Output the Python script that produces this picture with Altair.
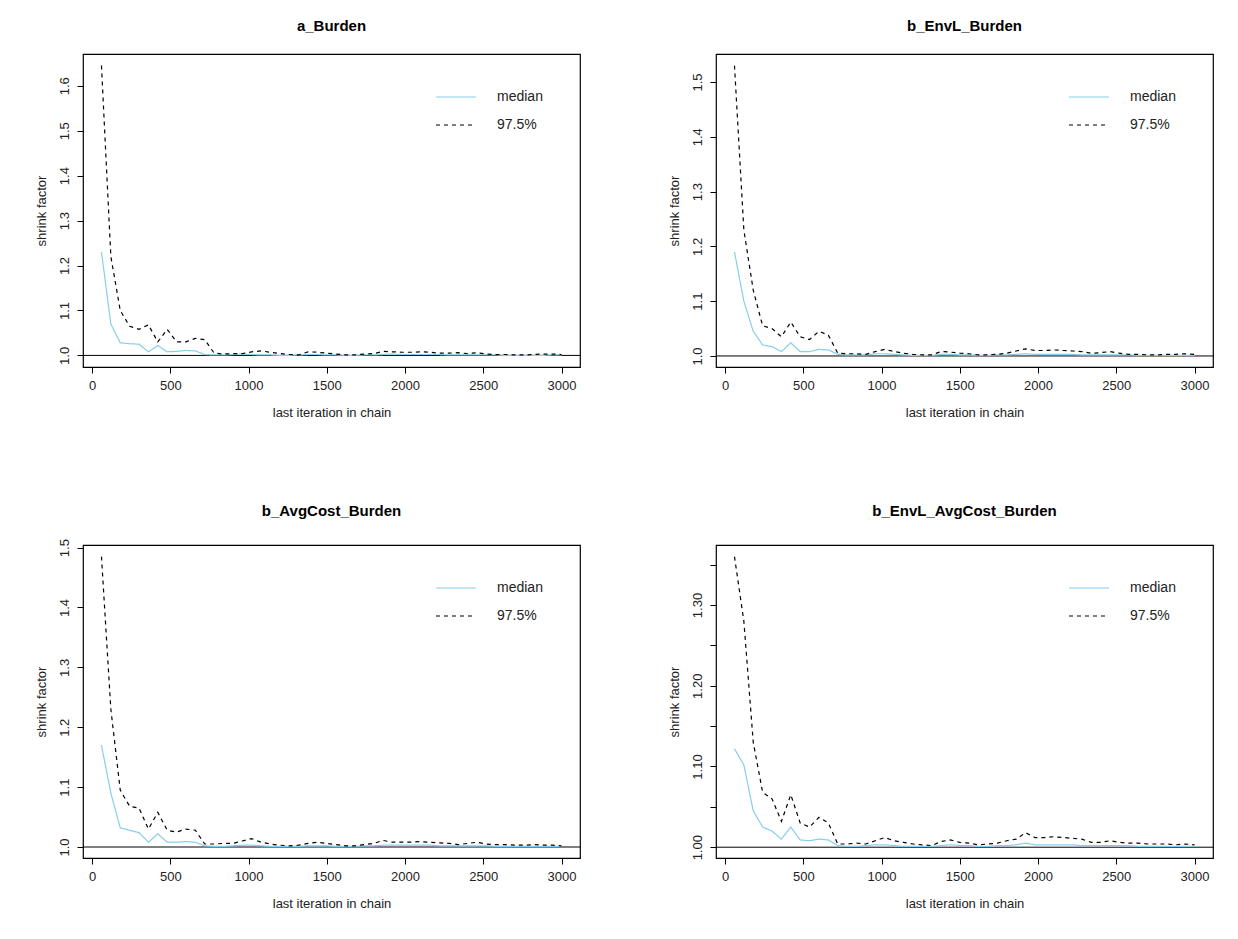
import pandas as pd
import altair as alt

iters = [60, 120, 180, 240, 300, 360, 420, 480, 540, 600,
         660, 720, 780, 840, 900, 960, 1020, 1080, 1140, 1200,
         1260, 1320, 1380, 1440, 1500, 1560, 1620, 1680, 1740, 1800,
         1860, 1920, 1980, 2040, 2100, 2160, 2220, 2280, 2340, 2400,
         2460, 2520, 2580, 2640, 2700, 2760, 2820, 2880, 2940, 3000]

a_med = [1.230, 1.070, 1.028, 1.026, 1.025, 1.008, 1.022, 1.008, 1.009, 1.011,
         1.010, 1.002, 1.001, 1.001, 1.002, 1.003, 1.002, 1.001, 1.001, 1.000,
         1.000, 1.001, 1.002, 1.002, 1.001, 1.001, 1.000, 1.000, 1.001, 1.001,
         1.002, 1.003, 1.002, 1.002, 1.002, 1.002, 1.002, 1.001, 1.001, 1.001,
         1.001, 1.001, 1.001, 1.000, 1.000, 1.000, 1.000, 1.000, 1.001, 1.001]
a_hi = [1.645, 1.220, 1.100, 1.065, 1.058, 1.068, 1.030, 1.058, 1.030, 1.030,
        1.038, 1.035, 1.005, 1.003, 1.004, 1.004, 1.008, 1.010, 1.007, 1.004,
        1.002, 1.001, 1.008, 1.007, 1.005, 1.003, 1.001, 1.001, 1.003, 1.004,
        1.009, 1.008, 1.007, 1.007, 1.008, 1.007, 1.005, 1.005, 1.006, 1.004,
        1.006, 1.003, 1.002, 1.002, 1.001, 1.001, 1.002, 1.003, 1.003, 1.002]

b_med = [1.190, 1.100, 1.045, 1.020, 1.017, 1.008, 1.024, 1.008, 1.008, 1.012,
         1.011, 1.003, 1.002, 1.002, 1.002, 1.004, 1.004, 1.003, 1.002, 1.001,
         1.001, 1.001, 1.003, 1.003, 1.002, 1.002, 1.001, 1.001, 1.002, 1.002,
         1.003, 1.004, 1.003, 1.003, 1.003, 1.003, 1.003, 1.002, 1.002, 1.002,
         1.002, 1.002, 1.002, 1.001, 1.001, 1.001, 1.001, 1.001, 1.001, 1.001]
b_hi = [1.530, 1.230, 1.120, 1.055, 1.050, 1.035, 1.062, 1.035, 1.030, 1.045,
        1.038, 1.005, 1.004, 1.004, 1.003, 1.008, 1.012, 1.008, 1.005, 1.003,
        1.002, 1.002, 1.008, 1.007, 1.005, 1.004, 1.002, 1.002, 1.003, 1.005,
        1.009, 1.013, 1.010, 1.010, 1.011, 1.010, 1.009, 1.008, 1.005, 1.006,
        1.008, 1.005, 1.003, 1.003, 1.002, 1.002, 1.003, 1.003, 1.004, 1.003]

c_med = [1.170, 1.090, 1.032, 1.028, 1.024, 1.008, 1.022, 1.008, 1.008, 1.009,
         1.008, 1.002, 1.001, 1.001, 1.002, 1.003, 1.003, 1.002, 1.001, 1.001,
         1.001, 1.001, 1.002, 1.002, 1.002, 1.001, 1.001, 1.001, 1.002, 1.002,
         1.003, 1.003, 1.003, 1.003, 1.003, 1.003, 1.002, 1.002, 1.002, 1.002,
         1.002, 1.002, 1.001, 1.001, 1.001, 1.001, 1.001, 1.001, 1.001, 1.001]
c_hi = [1.485, 1.230, 1.095, 1.068, 1.065, 1.030, 1.058, 1.028, 1.025, 1.030,
        1.028, 1.005, 1.005, 1.006, 1.006, 1.010, 1.014, 1.008, 1.005, 1.003,
        1.002, 1.003, 1.006, 1.008, 1.006, 1.004, 1.002, 1.002, 1.004, 1.006,
        1.011, 1.008, 1.008, 1.008, 1.009, 1.008, 1.007, 1.006, 1.004, 1.006,
        1.008, 1.005, 1.004, 1.004, 1.003, 1.003, 1.004, 1.003, 1.003, 1.002]

d_med = [1.122, 1.102, 1.045, 1.025, 1.020, 1.010, 1.025, 1.009, 1.008, 1.010,
         1.009, 1.002, 1.001, 1.001, 1.002, 1.003, 1.003, 1.002, 1.001, 1.001,
         1.001, 1.001, 1.002, 1.003, 1.002, 1.002, 1.001, 1.001, 1.002, 1.002,
         1.003, 1.005, 1.003, 1.003, 1.003, 1.003, 1.003, 1.002, 1.002, 1.002,
         1.002, 1.002, 1.002, 1.001, 1.001, 1.001, 1.001, 1.001, 1.001, 1.001]
d_hi = [1.360, 1.280, 1.130, 1.068, 1.060, 1.032, 1.065, 1.030, 1.025, 1.037,
        1.030, 1.004, 1.004, 1.005, 1.004, 1.008, 1.012, 1.008, 1.006, 1.004,
        1.003, 1.002, 1.007, 1.009, 1.006, 1.005, 1.003, 1.004, 1.005, 1.008,
        1.010, 1.018, 1.012, 1.012, 1.013, 1.012, 1.011, 1.010, 1.006, 1.006,
        1.008, 1.006, 1.005, 1.005, 1.004, 1.004, 1.004, 1.003, 1.004, 1.003]

x_ticks = [0, 500, 1000, 1500, 2000, 2500, 3000]
FONT = "Liberation Sans"


def panel(title, med, hi, yticks, yfmt, label_expr=None, title_offset=20):
    df = pd.DataFrame({
        "iter": iters * 2,
        "value": med + hi,
        "series": ["median"] * len(iters) + ["97.5%"] * len(iters),
    })
    lo = min(med + hi)
    top = max(med + hi)
    pad = (top - lo) * 0.04
    yaxis = dict(values=yticks, format=yfmt, labelAngle=-90, labelAlign="center",
                 labelBaseline="bottom", labelPadding=6, title="shrink factor",
                 titlePadding=10, grid=False)
    if label_expr:
        yaxis["labelExpr"] = label_expr
    leg = dict(title=None, orient="none", legendX=352, legendY=22, symbolType="stroke",
               symbolSize=1600, symbolStrokeWidth=1.2, labelFontSize=14, labelOffset=20,
               rowPadding=-6, padding=0)
    lines = alt.Chart(df).mark_line(strokeWidth=1.2).encode(
        x=alt.X("iter:Q", scale=alt.Scale(domain=[-58, 3118], nice=False, zero=False),
                axis=alt.Axis(values=x_ticks, format="d", title="last iteration in chain", grid=False,
                              titlePadding=14, labelPadding=6)),
        y=alt.Y("value:Q", scale=alt.Scale(domain=[lo - pad, top + pad], nice=False, zero=False),
                axis=alt.Axis(**yaxis)),
        color=alt.Color("series:N", scale=alt.Scale(domain=["median", "97.5%"], range=["#87CEEB", "black"]),
                        legend=alt.Legend(**leg)),
        strokeDash=alt.StrokeDash("series:N", scale=alt.Scale(domain=["median", "97.5%"], range=[[1, 0], [4, 4]]),
                                  legend=alt.Legend(**leg)),
    )
    hline = alt.Chart(pd.DataFrame({"y": [1.0]})).mark_rule(color="black", strokeWidth=1).encode(y="y:Q")
    return alt.layer(hline, lines).properties(
        width=497, height=313,
        title=alt.TitleParams(title, fontSize=15, fontWeight="bold", font=FONT, offset=title_offset))


p1 = panel("a_Burden", a_med, a_hi, [1.0, 1.1, 1.2, 1.3, 1.4, 1.5, 1.6], ".1f")
p2 = panel("b_EnvL_Burden", b_med, b_hi, [1.0, 1.1, 1.2, 1.3, 1.4, 1.5], ".1f")
p3 = panel("b_AvgCost_Burden", c_med, c_hi, [1.0, 1.1, 1.2, 1.3, 1.4, 1.5], ".1f")
p4 = panel("b_EnvL_AvgCost_Burden", d_med, d_hi, [1.0, 1.05, 1.1, 1.15, 1.2, 1.25, 1.3, 1.35], ".2f",
           label_expr="round(datum.value*100) % 10 == 0 ? datum.label : ''", title_offset=26)

chart = alt.vconcat(
    alt.hconcat(p1, p2, spacing=85).resolve_scale(color="independent", strokeDash="independent"),
    alt.hconcat(p3, p4, spacing=85).resolve_scale(color="independent", strokeDash="independent"),
    spacing=82,
).configure_view(stroke="black", strokeWidth=1.2).configure_axis(
    labelFont=FONT, titleFont=FONT, labelFontSize=13, titleFontSize=13, titleFontWeight="normal",
    labelColor="#222", titleColor="#222", domain=False, tickColor="black", tickSize=6
).configure_legend(labelFont=FONT, labelColor="#222").properties(
    padding={"left": 26, "top": 10, "right": 4, "bottom": 4})

chart.save("out.html", embed_options={"renderer": "svg", "actions": False})
